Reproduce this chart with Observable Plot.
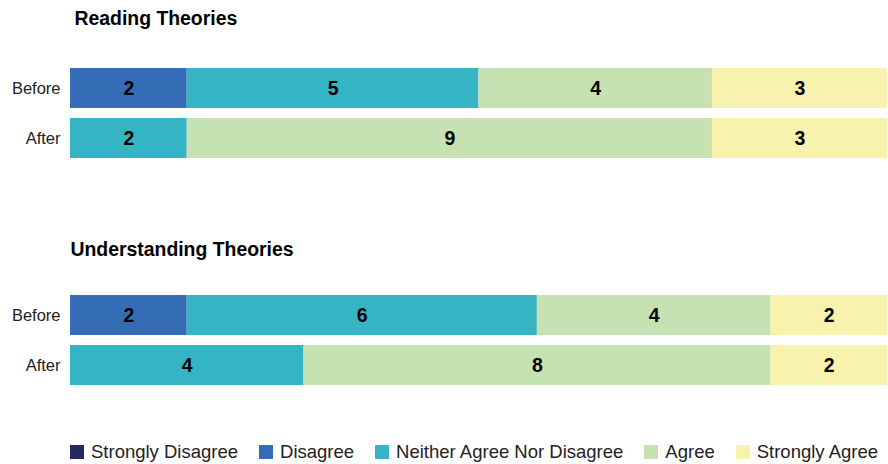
<!DOCTYPE html>
<html><head><meta charset="utf-8">
<script src="https://cdn.jsdelivr.net/npm/d3@7"></script>
<script src="https://cdn.jsdelivr.net/npm/@observablehq/plot@0.6"></script>
<style>
body{margin:0;background:#fff;font-family:"Liberation Sans",Arial,sans-serif;overflow:hidden;}
#legend{padding-left:70px;height:24px;width:818px;overflow:visible;}
#legend > div{flex-wrap:nowrap !important;white-space:nowrap !important;min-height:24px !important;height:24px !important;margin:0 !important;display:flex;align-items:center;}
#legend .lg-swatch{margin-right:21px !important;white-space:nowrap !important;}
#legend .lg-swatch > svg{margin-right:7px !important;}
</style></head><body><div id="chart"></div><div id="legend"></div><script>
const topics = ["Reading Theories", "Understanding Theories"];
const phases = ["Before", "After"];
const responses = ["Strongly Disagree", "Disagree", "Neither Agree Nor Disagree", "Agree", "Strongly Agree"];
const colors = ["#232a60", "#346cb5", "#35b5c4", "#c7e2b2", "#f7f3ae"];
const readingBefore = [0, 2, 5, 4, 3];
const readingAfter = [0, 0, 2, 9, 3];
const understandingBefore = [0, 2, 6, 4, 2];
const understandingAfter = [0, 0, 4, 8, 2];

const series = [
  [topics[0], "Before", readingBefore],
  [topics[0], "After", readingAfter],
  [topics[1], "Before", understandingBefore],
  [topics[1], "After", understandingAfter]
];
const rows = [];
for (const [topic, phase, vals] of series) {
  vals.forEach((v, i) => { if (v > 0) rows.push({topic, phase, response: responses[i], count: v}); });
}

const font = "Liberation Sans, Arial, sans-serif";
const plot = Plot.plot({
  width: 888, height: 440,
  marginLeft: 70, marginRight: 1, marginTop: 63, marginBottom: 50,
  style: {fontFamily: font, background: "white", color: "#222", display: "block"},
  x: {domain: [0, 14], axis: null},
  y: {domain: phases, paddingInner: 0.2, paddingOuter: 0.1, axis: null},
  fy: {domain: topics, axis: null, paddingInner: 127 / 227, paddingOuter: 0},
  color: {domain: responses, range: colors},
  marks: [
    Plot.barX(rows, Plot.stackX({x: "count", y: "phase", fy: "topic", fill: "response", order: responses})),
    Plot.text(rows, Plot.stackX({x: "count", y: "phase", fy: "topic", z: "response", order: responses, text: "count", fontWeight: "bold", fontSize: 19.5, fill: "black"})),
    Plot.axisY({tickSize: 0, tickPadding: 10, fontSize: 16.5, label: null}),
    Plot.text([topics[0]], {fy: d => d, text: d => d, frameAnchor: "top-left", lineAnchor: "middle", textAnchor: "start", dx: 4, dy: -45, fontWeight: "bold", fontSize: 19.4, fill: "black"}),
    Plot.text([topics[1]], {fy: d => d, text: d => d, frameAnchor: "top-left", lineAnchor: "middle", textAnchor: "start", dx: 0, dy: -41, fontWeight: "bold", fontSize: 19.4, fill: "black"})
  ]
});
document.getElementById("chart").append(plot);

const legend = Plot.legend({
  color: {domain: responses, range: colors},
  legend: "swatches",
  swatchSize: 14,
  className: "lg",
  style: {fontSize: "18.5px", fontFamily: font, color: "#222", margin: "0", lineHeight: "24px"}
});
document.getElementById("legend").append(legend);
</script></body></html>
